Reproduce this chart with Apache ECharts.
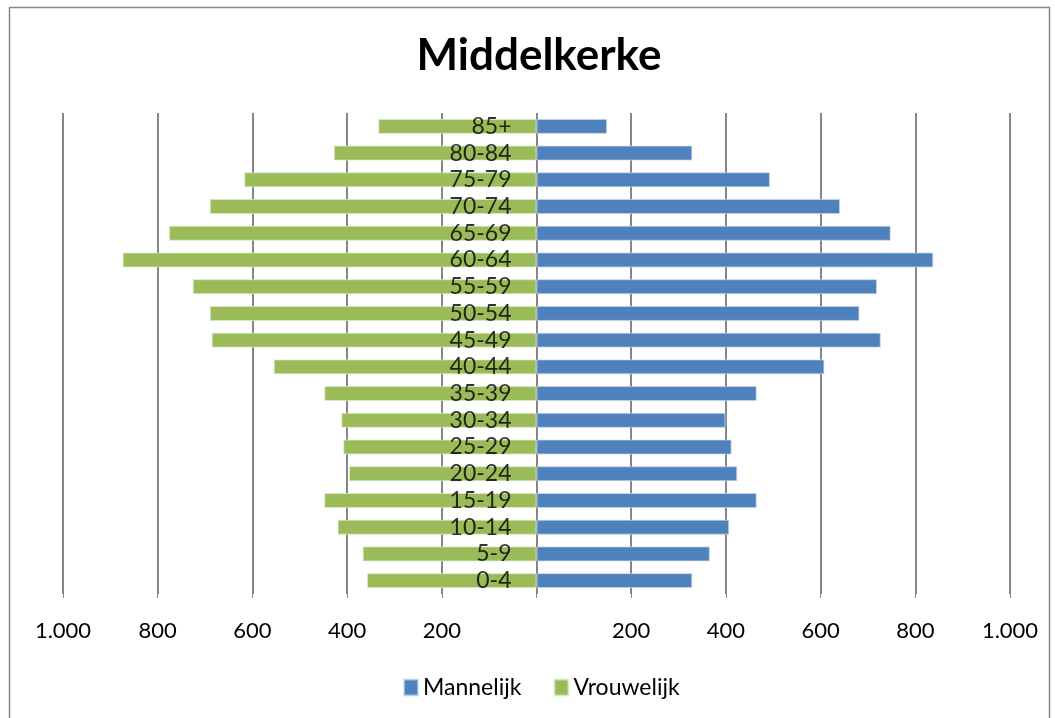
<!DOCTYPE html>
<html>
<head>
<meta charset="utf-8">
<script src="https://cdn.jsdelivr.net/npm/echarts@6/dist/echarts.min.js"></script>
<style>
html,body{margin:0;padding:0;background:#fff;}
#c{width:1055px;height:718px;}
</style>
</head>
<body>
<div id="c"></div>
<script>
const categories = ['0-4','5-9','10-14','15-19','20-24','25-29','30-34','35-39','40-44','45-49','50-54','55-59','60-64','65-69','70-74','75-79','80-84','85+'];
const mannelijk = [329,366,407,465,424,412,399,465,608,727,682,719,838,748,641,493,329,149];
const vrouwelijk = [358,367,420,448,396,408,412,448,555,686,690,726,874,776,690,617,428,334];
const xTicks = [-1000,-800,-600,-400,-200,0,200,400,600,800,1000];

const FONT = 'Lato, "Open Sans", sans-serif';
function fmt(v){
  v = Math.abs(v);
  if (v === 0) return '';
  return String(v).replace(/\B(?=(\d{3})+(?!\d))/g, '.');
}
const chart = echarts.init(document.getElementById('c'), null, {renderer:'canvas'});
chart.setOption({
  backgroundColor:'#fff',
  animation:false,
  textStyle:{fontFamily:FONT},
  graphic:[{type:'rect', left:7, top:5, shape:{width:1040, height:730}, style:{fill:'none', stroke:'#868686', lineWidth:1.5}, silent:true}],
  title:{text:'Middelkerke', left:534, top:29, textAlign:'center',
    textStyle:{fontFamily:FONT, fontSize:44, fontWeight:'bold', color:'#000'}},
  legend:{data:['Mannelijk','Vrouwelijk'], bottom:14, left:398, itemWidth:14, itemHeight:16, itemGap:32,
    icon:'rect', textStyle:{fontFamily:FONT, fontSize:23, color:'#000'}},
  grid:{left:63, right:45, top:113, bottom:124, containLabel:false, outerBoundsMode:'none'},
  xAxis:{type:'value', min:xTicks[0], max:xTicks[xTicks.length-1], interval:200,
    axisLine:{show:false},
    axisTick:{show:true, length:4, lineStyle:{color:'#868686', width:1}},
    splitLine:{show:true, lineStyle:{color:'#868686', width:2}},
    axisLabel:{formatter:fmt, fontFamily:FONT, fontSize:22, color:'#000', margin:26}},
  yAxis:{type:'category', data:categories,
    axisLine:{show:false},
    axisTick:{show:false},
    axisLabel:{show:false}},
  series:[
    {name:'Mannelijk', type:'bar', stack:'p', data:mannelijk, barCategoryGap:'44%',
      itemStyle:{color:'#4F81BD', borderColor:'rgba(200,215,235,0.7)', borderWidth:1}},
    {name:'Vrouwelijk', type:'bar', stack:'p', data:vrouwelijk.map(v=>-v), barCategoryGap:'44%',
      itemStyle:{color:'#9BBB59', borderColor:'rgba(220,235,200,0.7)', borderWidth:1}},
    {name:'labels', type:'scatter', z:10, symbolSize:0, silent:true,
      data:categories.map(c=>[0,c]),
      label:{show:true, position:'left', distance:25, formatter:p=>p.value[1],
        fontFamily:FONT, fontSize:23, color:'#000'}}
  ]
});
</script>
</body>
</html>
